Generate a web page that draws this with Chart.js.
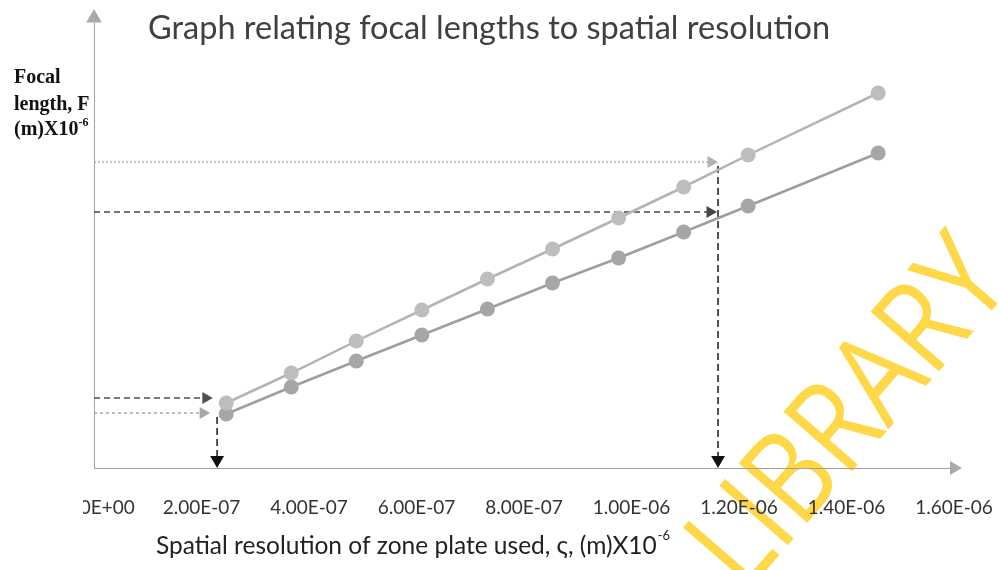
<!DOCTYPE html>
<html>
<head>
<meta charset="utf-8">
<script src="https://cdn.jsdelivr.net/npm/chart.js@4.4.1/dist/chart.umd.min.js"></script>
<style>
  html, body { margin: 0; padding: 0; background: #fff; }
  #wrap { width: 999px; height: 570px; position: relative; }
</style>
</head>
<body>
<div id="wrap"><canvas id="focalChart" width="999" height="570"></canvas></div>
<script>
// values (y has no printed scale, units are arbitrary)
const resolution = [2.46e-7, 3.67e-7, 4.88e-7, 6.10e-7, 7.32e-7, 8.53e-7, 9.76e-7, 1.097e-6, 1.217e-6, 1.459e-6];
const focalUpper = [0.65, 0.95, 1.27, 1.58, 1.89, 2.19, 2.50, 2.81, 3.13, 3.75];
const focalLower = [0.54, 0.81, 1.07, 1.33, 1.59, 1.85, 2.10, 2.36, 2.62, 3.15];

const xTickLabels = ['0.00E+00', '2.00E-07', '4.00E-07', '6.00E-07', '8.00E-07',
                     '1.00E-06', '1.20E-06', '1.40E-06', '1.60E-06'];

// dashed read-off guides: horizontal levels and where their arrowheads sit
const guideLevels = [0.70, 0.55, 3.06, 2.56];
const guideEnds   = [2.08e-7, 2.03e-7, 1.148e-6, 1.146e-6];
// vertical drops to the x axis
const dropX   = [2.29e-7, 1.161e-6];
const dropTop = [0.51, 3.02];

const yMax = 4.45;
const xMax = 1.6e-6;

function hGuide(i, color, dash) {
  return {
    data: [{ x: 0, y: guideLevels[i] }, { x: guideEnds[i], y: guideLevels[i] }],
    borderColor: color,
    borderDash: dash,
    borderWidth: 1.5,
    pointRadius: [0, 7],
    pointStyle: 'triangle',
    pointRotation: 90,
    pointBackgroundColor: color,
    pointBorderWidth: 0,
    clip: false,
    order: 2
  };
}

function vDrop(i) {
  return {
    data: [{ x: dropX[i], y: dropTop[i] }, { x: dropX[i], y: 0.08 }],
    borderColor: '#1a1a1a',
    borderDash: [7, 4],
    borderWidth: 1.5,
    pointRadius: [0, 8],
    pointStyle: 'triangle',
    pointRotation: 180,
    pointBackgroundColor: '#111',
    pointBorderWidth: 0,
    clip: false,
    order: 2
  };
}

const overlay = {
  id: 'overlay',
  beforeDraw(chart) {
    const ctx = chart.ctx;
    ctx.save();
    // the scan is cut at the left, so is the first tick label
    ctx.beginPath();
    ctx.rect(83, 0, chart.width, chart.height);
    ctx.clip();

    // library stamp
    ctx.save();
    ctx.translate(852, 416);
    ctx.rotate(-49 * Math.PI / 180);
    ctx.scale(1, 1.2);
    ctx.font = '400 106px "Open Sans"';
    ctx.fillStyle = '#ffd84a';
    ctx.textAlign = 'center';
    ctx.textBaseline = 'middle';
    ctx.fillText('LIBRARY', 0, 0);
    ctx.restore();
  },
  afterDraw(chart) {
    const ctx = chart.ctx;
    ctx.restore();
    ctx.save();

    ctx.fillStyle = '#404040';
    ctx.font = '32.5px Lato';
    ctx.textAlign = 'center';
    ctx.textBaseline = 'alphabetic';
    ctx.fillText('Graph relating focal lengths to spatial resolution', 489, 39);

    // y label, bold serif, top left
    ctx.textAlign = 'left';
    ctx.fillStyle = '#111';
    ctx.font = 'bold 20px "Liberation Serif"';
    ctx.fillText('Focal', 14, 83);
    ctx.fillText('length, F', 14, 110);
    ctx.fillText('(m)X10', 14, 135);
    let w = ctx.measureText('(m)X10').width;
    ctx.font = 'bold 12px "Liberation Serif"';
    ctx.fillText('-6', 14 + w, 126);

    // x title
    ctx.fillStyle = '#222';
    ctx.font = '24.5px Lato';
    const xt = 'Spatial resolution of zone plate used, \u03C2, (m)X10';
    ctx.fillText(xt, 156, 554);
    w = ctx.measureText(xt).width;
    ctx.font = '13px Lato';
    ctx.fillText('-6', 156 + w + 1, 540);
    ctx.restore();
  }
};

new Chart(document.getElementById('focalChart'), {
  type: 'line',
  data: {
    datasets: [
      {
        data: resolution.map((x, i) => ({ x, y: focalUpper[i] })),
        borderColor: '#b4b4b4',
        borderWidth: 2.5,
        pointRadius: 7.5,
        pointBackgroundColor: '#bdbdbd',
        pointBorderWidth: 0,
        order: 1
      },
      {
        data: resolution.map((x, i) => ({ x, y: focalLower[i] })),
        borderColor: '#9e9e9e',
        borderWidth: 2.5,
        pointRadius: 7.5,
        pointBackgroundColor: '#a6a6a6',
        pointBorderWidth: 0,
        order: 1
      },
      hGuide(0, '#505050', [6, 4]),
      hGuide(1, '#a8a8a8', [3, 3]),
      hGuide(2, '#b0b0b0', [2, 2]),
      hGuide(3, '#474747', [6, 4]),
      vDrop(0),
      vDrop(1),
      // axis arrowheads
      {
        data: [{ x: 0, y: 4.50 }],
        pointRadius: 9, pointStyle: 'triangle', pointRotation: 0,
        pointBackgroundColor: '#a9a9a9', pointBorderWidth: 0,
        showLine: false, clip: false, order: 3
      },
      {
        data: [{ x: xMax, y: 0 }],
        pointRadius: 8, pointStyle: 'triangle', pointRotation: 90,
        pointBackgroundColor: '#a9a9a9', pointBorderWidth: 0,
        showLine: false, clip: false, order: 3
      }
    ]
  },
  options: {
    responsive: false,
    animation: false,
    events: [],
    layout: { padding: { top: 23, right: 45, left: 0, bottom: 0 } },
    scales: {
      x: {
        type: 'linear',
        min: 0,
        max: xMax,
        afterFit: s => { s.height = 102; s.paddingLeft = 0; s.paddingRight = 0; },
        grid: { display: false, drawTicks: false },
        border: { color: '#a0a0a0', width: 1, dash: [2, 1] },
        ticks: {
          stepSize: 2e-7,
          autoSkip: false,
          maxRotation: 0,
          padding: 28,
          color: '#333',
          font: { family: 'Lato', size: 19 },
          callback: (v, i) => xTickLabels[i]
        }
      },
      y: {
        min: 0,
        max: yMax,
        afterFit: s => { s.width = 94; },
        grid: { display: false, drawTicks: false },
        border: { color: '#a0a0a0', width: 1, dash: [2, 1] },
        ticks: { display: false }
      }
    },
    plugins: {
      legend: { display: false },
      tooltip: { enabled: false },
      title: { display: false }
    }
  },
  plugins: [overlay]
});
</script>
</body>
</html>
